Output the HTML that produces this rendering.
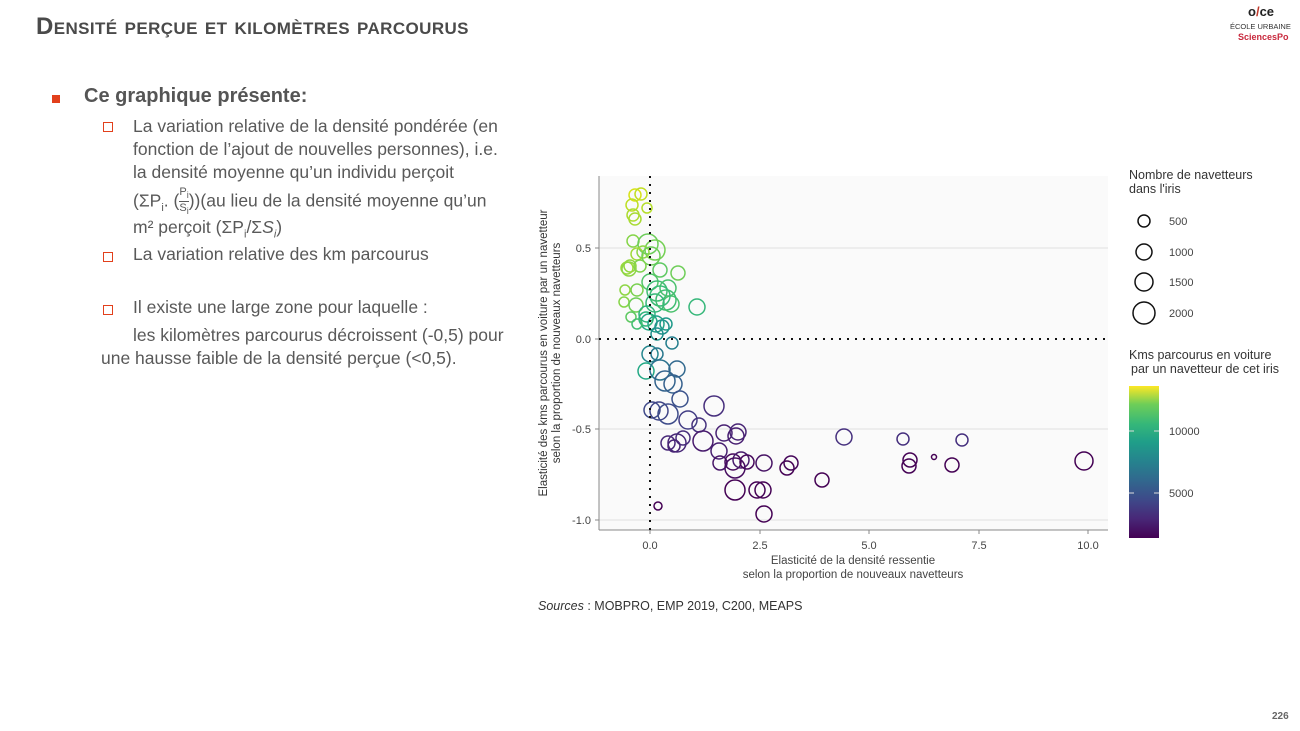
<!DOCTYPE html>
<html><head><meta charset="utf-8"><style>
body{margin:0;width:1300px;height:731px;background:#fff;position:relative;overflow:hidden;font-family:"Liberation Sans",sans-serif}
.t{position:absolute;white-space:nowrap}
.c{font-family:"Liberation Sans",sans-serif;color:#595959;font-size:17.5px}
</style></head><body>
<div class="t" style="left:36px;top:13px;font-size:24px;font-weight:bold;color:#4a4a4a;font-variant:small-caps;letter-spacing:0.4px">Densité perçue et kilomètres parcourus</div>
<div class="t" style="left:1248px;top:4px;font-size:13px;font-weight:bold;color:#222">o<span style="color:#c0392b">/</span>ce</div>
<div class="t" style="left:1230px;top:22px;font-size:7.5px;color:#333">ÉCOLE URBAINE</div>
<div class="t" style="left:1238px;top:32px;font-size:9px;font-weight:bold;color:#c8283c">SciencesPo</div>
<div class="t" style="left:1272px;top:711px;font-size:10px;color:#666;font-weight:bold">226</div>

<div class="t" style="left:52px;top:95px;width:8px;height:8px;background:#e2401c"></div>
<div class="t c" style="left:84px;top:85px;font-size:20px;font-weight:bold;color:#555">Ce graphique présente:</div>
<div class="t" style="left:103px;top:122px;width:8px;height:8px;border:1.3px solid #e2401c"></div>
<div class="t c" style="left:133px;top:115px;line-height:23px">La variation relative de la densité pondérée (en<br>fonction de l’ajout de nouvelles personnes), i.e.<br>la densité moyenne qu’un individu perçoit</div>
<div class="t c" style="left:133px;top:186px">(ΣP<sub style="font-size:11px">i</sub>. (<span style="display:inline-block;vertical-align:middle;text-align:center;font-size:11px;line-height:12px"><span style="border-bottom:1px solid #595959;display:block">P<sub>i</sub></span>S<sub>i</sub></span>))(au lieu de la densité moyenne qu’un</div>
<div class="t c" style="left:133px;top:217px">m² perçoit (ΣP<sub style="font-size:11px">i</sub>/Σ<i>S<sub style="font-size:11px">i</sub></i>)</div>
<div class="t" style="left:103px;top:252px;width:8px;height:8px;border:1.3px solid #e2401c"></div>
<div class="t c" style="left:133px;top:244px">La variation relative des km parcourus</div>
<div class="t" style="left:103px;top:305px;width:8px;height:8px;border:1.3px solid #e2401c"></div>
<div class="t c" style="left:133px;top:297px">Il existe une large zone pour laquelle :</div>
<div class="t c" style="left:133px;top:325px">les kilomètres parcourus décroissent (-0,5) pour</div>
<div class="t c" style="left:101px;top:348px">une hausse faible de la densité perçue (&lt;0,5).</div>

<svg width="1300" height="731" style="position:absolute;left:0;top:0" font-family="Liberation Sans, sans-serif">
<defs><linearGradient id="v" x1="0" y1="1" x2="0" y2="0">
<stop offset="0" stop-color="#440154"/><stop offset="0.13" stop-color="#482878"/><stop offset="0.25" stop-color="#3e4989"/><stop offset="0.38" stop-color="#31688e"/><stop offset="0.5" stop-color="#26828e"/><stop offset="0.63" stop-color="#1f9e89"/><stop offset="0.75" stop-color="#35b779"/><stop offset="0.88" stop-color="#6ece58"/><stop offset="1" stop-color="#fde725"/></linearGradient></defs>
<rect x="599" y="176" width="509" height="354" fill="#fafafa"/>
<g stroke="#e0e0e0" stroke-width="1"><line x1="599" x2="1108" y1="248" y2="248"/><line x1="599" x2="1108" y1="429" y2="429"/><line x1="599" x2="1108" y1="520" y2="520"/></g>
<line x1="599" y1="176" x2="599" y2="530" stroke="#888"/>
<line x1="599" y1="530" x2="1108" y2="530" stroke="#888"/>
<g stroke="#888"><line x1="650" x2="650" y1="530" y2="534"/><line x1="760" x2="760" y1="530" y2="534"/><line x1="869" x2="869" y1="530" y2="534"/><line x1="979" x2="979" y1="530" y2="534"/><line x1="1088" x2="1088" y1="530" y2="534"/>
<line x1="595" x2="599" y1="248" y2="248"/><line x1="595" x2="599" y1="339" y2="339"/><line x1="595" x2="599" y1="429" y2="429"/><line x1="595" x2="599" y1="520" y2="520"/></g>
<g font-size="11" fill="#444" text-anchor="middle"><text x="650" y="549">0.0</text><text x="760" y="549">2.5</text><text x="869" y="549">5.0</text><text x="979" y="549">7.5</text><text x="1088" y="549">10.0</text>
<text x="853" y="564" font-size="11.5">Elasticité de la densité ressentie</text><text x="853" y="578" font-size="11.5">selon la proportion de nouveaux navetteurs</text></g>
<g font-size="11" fill="#444" text-anchor="end"><text x="591" y="252">0.5</text><text x="591" y="343">0.0</text><text x="591" y="433">-0.5</text><text x="591" y="524">-1.0</text></g>
<text transform="translate(547,353) rotate(-90)" font-size="11.5" fill="#333" text-anchor="middle">Elasticité des kms parcourus en voiture par un navetteur</text>
<text transform="translate(560,353) rotate(-90)" font-size="11.5" fill="#333" text-anchor="middle">selon la proportion de nouveaux navetteurs</text>
<g fill="none" stroke-width="1.5">
<circle cx="635" cy="195" r="6" stroke="#d8e219"/><circle cx="641" cy="194" r="6" stroke="#c2df23"/><circle cx="632" cy="205" r="6" stroke="#bddf26"/><circle cx="647" cy="208" r="5" stroke="#b5de2b"/><circle cx="633" cy="215" r="6" stroke="#addc30"/><circle cx="635" cy="219" r="6" stroke="#a8db34"/>
<circle cx="633" cy="241" r="6" stroke="#86d549"/><circle cx="648" cy="244" r="10" stroke="#6ccd5a"/><circle cx="655" cy="250" r="10" stroke="#75d054"/><circle cx="643" cy="252" r="6" stroke="#8ed645"/><circle cx="637" cy="254" r="6" stroke="#a0da39"/><circle cx="651" cy="256" r="9" stroke="#6ece58"/>
<circle cx="630" cy="266" r="6" stroke="#93d741"/><circle cx="640" cy="266" r="6" stroke="#7fd34e"/><circle cx="627" cy="268" r="6" stroke="#9bd93c"/><circle cx="629" cy="269" r="7" stroke="#8ed645"/><circle cx="660" cy="270" r="7" stroke="#5ec962"/><circle cx="678" cy="273" r="7" stroke="#6ece58"/>
<circle cx="650" cy="282" r="8" stroke="#52c569"/><circle cx="637" cy="290" r="6" stroke="#7ad151"/><circle cx="657" cy="291" r="10" stroke="#3fbc73"/><circle cx="668" cy="288" r="8" stroke="#4ac16d"/><circle cx="671" cy="304" r="8" stroke="#4ac16d"/><circle cx="625" cy="290" r="5" stroke="#8ed645"/><circle cx="624" cy="302" r="5" stroke="#86d549"/><circle cx="636" cy="305" r="7" stroke="#6ece58"/><circle cx="655" cy="303" r="9" stroke="#35b779"/><circle cx="647" cy="314" r="8" stroke="#2fb47c"/><circle cx="697" cy="307" r="8" stroke="#35b779"/><circle cx="631" cy="317" r="5" stroke="#5ec962"/>
<circle cx="660" cy="296" r="10" stroke="#3aba76"/><circle cx="666" cy="300" r="10" stroke="#40bd72"/><circle cx="649" cy="322" r="8" stroke="#22a884"/><circle cx="656" cy="324" r="8" stroke="#1fa187"/><circle cx="662" cy="327" r="7" stroke="#21918c"/><circle cx="666" cy="324" r="6" stroke="#1f9a8a"/><circle cx="657" cy="334" r="6" stroke="#21918c"/><circle cx="672" cy="343" r="6" stroke="#277f8e"/><circle cx="646" cy="319" r="7" stroke="#2fb47c"/><circle cx="637" cy="324" r="5" stroke="#42be71"/>
<circle cx="650" cy="354" r="8" stroke="#24868e"/><circle cx="657" cy="354" r="6" stroke="#2a788e"/><circle cx="646" cy="371" r="8" stroke="#22a884"/><circle cx="660" cy="370" r="10" stroke="#2c728e"/><circle cx="677" cy="369" r="8" stroke="#31688e"/><circle cx="665" cy="381" r="10" stroke="#33638d"/><circle cx="673" cy="384" r="9" stroke="#35608d"/>
<circle cx="652" cy="410" r="8" stroke="#3e4989"/><circle cx="680" cy="399" r="8" stroke="#3b528b"/><circle cx="659" cy="411" r="9" stroke="#404688"/><circle cx="668" cy="414" r="10" stroke="#3e4c8a"/><circle cx="688" cy="420" r="9" stroke="#433e85"/><circle cx="714" cy="406" r="10" stroke="#472f7d"/><circle cx="699" cy="425" r="7" stroke="#46327e"/>
<circle cx="668" cy="443" r="7" stroke="#482979"/><circle cx="677" cy="443" r="9" stroke="#482878"/><circle cx="683" cy="438" r="7" stroke="#472d7b"/><circle cx="674" cy="446" r="6" stroke="#482475"/><circle cx="724" cy="433" r="8" stroke="#482173"/><circle cx="738" cy="432" r="8" stroke="#482475"/><circle cx="736" cy="436" r="8" stroke="#471e71"/><circle cx="703" cy="441" r="10" stroke="#481b6d"/>
<circle cx="719" cy="451" r="8" stroke="#471f70"/><circle cx="720" cy="463" r="7" stroke="#481668"/><circle cx="733" cy="462" r="8" stroke="#46085c"/><circle cx="741" cy="460" r="8" stroke="#481b6d"/><circle cx="747" cy="462" r="7" stroke="#46085c"/><circle cx="735" cy="468" r="10" stroke="#470d60"/><circle cx="764" cy="463" r="8" stroke="#471365"/><circle cx="787" cy="468" r="7" stroke="#440154"/><circle cx="791" cy="463" r="7" stroke="#450559"/>
<circle cx="735" cy="490" r="10" stroke="#440154"/><circle cx="757" cy="490" r="8" stroke="#440154"/><circle cx="763" cy="490" r="8" stroke="#440154"/><circle cx="764" cy="514" r="8" stroke="#440154"/><circle cx="658" cy="506" r="4" stroke="#440154"/><circle cx="822" cy="480" r="7" stroke="#440154"/>
<circle cx="844" cy="437" r="8" stroke="#46307e"/><circle cx="903" cy="439" r="6" stroke="#46307e"/><circle cx="910" cy="460" r="7" stroke="#440154"/><circle cx="909" cy="466" r="7" stroke="#440154"/><circle cx="934" cy="457" r="2.5" stroke="#440154"/><circle cx="952" cy="465" r="7" stroke="#440154"/><circle cx="962" cy="440" r="6" stroke="#46307e"/><circle cx="1084" cy="461" r="9" stroke="#440154"/>
</g>
<line x1="650" y1="176" x2="650" y2="530" stroke="#111" stroke-width="2" stroke-dasharray="2,6"/>
<line x1="599" y1="339" x2="1108" y2="339" stroke="#111" stroke-width="2" stroke-dasharray="2,6"/>
<text x="1129" y="179" font-size="12.5" fill="#333">Nombre de navetteurs</text><text x="1129" y="193" font-size="12.5" fill="#333">dans l'iris</text>
<g fill="none" stroke="#111" stroke-width="1.5"><circle cx="1144" cy="221" r="6"/><circle cx="1144" cy="252" r="8"/><circle cx="1144" cy="282" r="9"/><circle cx="1144" cy="313" r="11"/></g>
<g font-size="11" fill="#444"><text x="1169" y="225">500</text><text x="1169" y="256">1000</text><text x="1169" y="286">1500</text><text x="1169" y="317">2000</text>
<text x="1169" y="435">10000</text><text x="1169" y="497">5000</text></g>
<text x="1129" y="359" font-size="12.5" fill="#333">Kms parcourus en voiture</text><text x="1131" y="373" font-size="12.5" fill="#333">par un navetteur de cet iris</text>
<rect x="1129" y="386" width="30" height="152" fill="url(#v)"/>
<g stroke="#ddd"><line x1="1129" x2="1134" y1="431" y2="431"/><line x1="1154" x2="1159" y1="431" y2="431"/><line x1="1129" x2="1134" y1="493" y2="493"/><line x1="1154" x2="1159" y1="493" y2="493"/></g>
<text x="538" y="610" font-size="12.5" fill="#333"><tspan font-style="italic">Sources</tspan> : MOBPRO, EMP 2019, C200, MEAPS</text>
</svg>
</body></html>
